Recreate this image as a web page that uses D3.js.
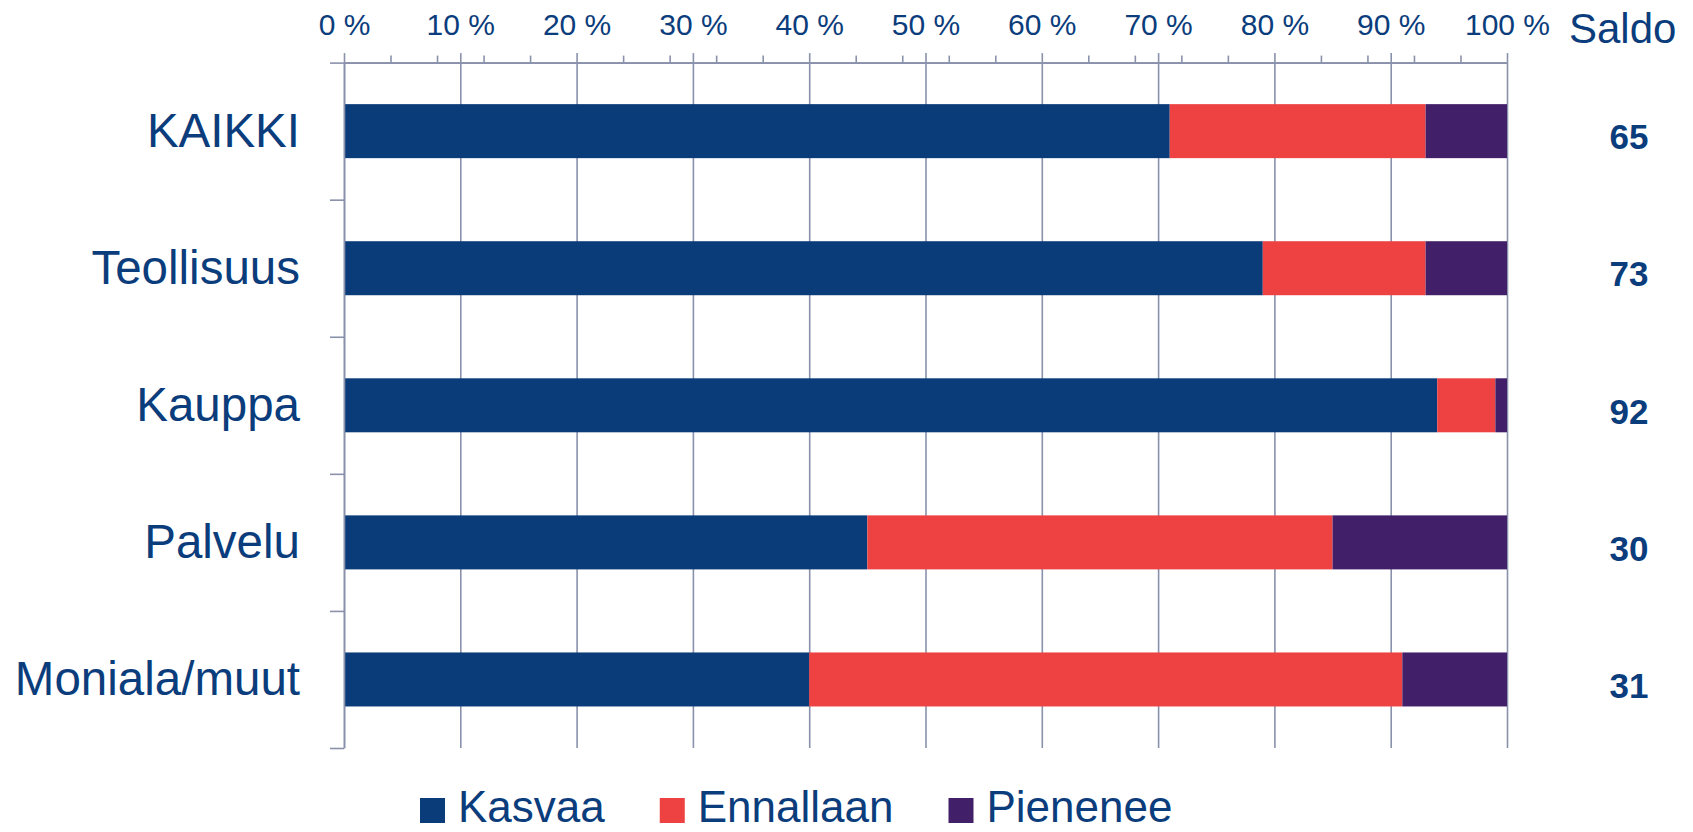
<!DOCTYPE html>
<html>
<head>
<meta charset="utf-8">
<script src="https://cdn.jsdelivr.net/npm/d3@7"></script>
<style>
  body { margin: 0; background: #fff; }
  svg { display: block; font-family: "Liberation Sans", Arial, sans-serif; }
  .grid line, .ticks line, .yticks line { stroke: #8a91ab; stroke-width: 1.6; }
  .ticks path, .yticks path { stroke: #8a91ab; stroke-width: 1.6; }
  .grid path { display: none; }
</style>
</head>
<body>
<svg></svg>
<script>
var categories = ["KAIKKI", "Teollisuus", "Kauppa", "Palvelu", "Moniala/muut"],
    kasvaa = [71, 79, 94, 45, 40],
    ennallaan = [22, 14, 5, 40, 51],
    pienenee = [7, 7, 1, 15, 9],
    saldo = [65, 73, 92, 30, 31],
    seriesNames = ["Kasvaa", "Ennallaan", "Pienenee"],
    seriesColors = ["#0a3c7a", "#ee4242", "#421f69"],
    majorTicks = [0, 10, 20, 30, 40, 50, 60, 70, 80, 90, 100],
    minorTicks = [4, 8, 12, 16, 24, 28, 32, 36, 44, 48, 52, 56, 64, 68, 72, 76, 84, 88, 92, 96];

var width = 1693,
    height = 832,
    margin = { top: 62.6, left: 344, right: 1693 - 1507, bottom: 832 - 748 },
    textColor = "#0b3d7c";

var svg = d3.select("svg")
    .attr("width", width)
    .attr("height", height);

var x = d3.scaleLinear()
    .domain([0, 100])
    .range([margin.left, width - margin.right]);

var y = d3.scaleBand()
    .domain(categories)
    .range([margin.top, height - margin.bottom])
    .paddingInner(0.606)
    .paddingOuter(0.303);

// boundaries between categories for the left ticks
var yb = d3.scaleLinear()
    .domain([0, categories.length])
    .range([margin.top, height - margin.bottom]);

// stack the three series
var rows = categories.map(function(c, i) {
    return { cat: c, Kasvaa: kasvaa[i], Ennallaan: ennallaan[i], Pienenee: pienenee[i] };
});
var stacked = d3.stack().keys(seriesNames)(rows);

// vertical gridlines
svg.append("g")
    .attr("class", "grid")
    .attr("transform", "translate(0," + margin.top + ")")
    .call(d3.axisBottom(x)
        .tickValues(majorTicks)
        .tickSize(height - margin.bottom - margin.top)
        .tickFormat(""));

// bars
svg.append("g")
    .selectAll("g")
    .data(stacked)
    .enter().append("g")
    .attr("fill", function(d, i) { return seriesColors[i]; })
    .selectAll("rect")
    .data(function(d) { return d; })
    .enter().append("rect")
    .attr("x", function(d) { return x(d[0]); })
    .attr("y", function(d) { return y(d.data.cat); })
    .attr("width", function(d) { return x(d[1]) - x(d[0]); })
    .attr("height", y.bandwidth());

// top axis, minor ticks
svg.append("g")
    .attr("class", "ticks")
    .attr("transform", "translate(0," + margin.top + ")")
    .call(d3.axisTop(x)
        .tickValues(minorTicks)
        .tickSize(7)
        .tickSizeOuter(0)
        .tickFormat(""));

// top axis, major ticks + labels
var xAxis = svg.append("g")
    .attr("class", "ticks")
    .attr("transform", "translate(0," + margin.top + ")")
    .call(d3.axisTop(x)
        .tickValues(majorTicks)
        .tickSize(9.5)
        .tickSizeOuter(0)
        .tickPadding(18.5)
        .tickFormat(function(d) { return d + " %"; }));
xAxis.selectAll("text")
    .attr("fill", textColor)
    .style("font-size", "30px")
    .style("font-family", "'Liberation Sans', Arial, sans-serif");

// left axis with ticks at the category boundaries
svg.append("g")
    .attr("class", "yticks")
    .attr("transform", "translate(" + margin.left + ",0)")
    .call(d3.axisLeft(yb)
        .tickValues(d3.range(categories.length + 1))
        .tickSize(14)
        .tickSizeOuter(0)
        .tickFormat(""));

// category labels
svg.append("g")
    .selectAll("text")
    .data(categories)
    .enter().append("text")
    .attr("x", 300)
    .attr("y", function(d) { return y(d) + y.bandwidth() / 2; })
    .attr("dy", "0.335em")
    .attr("text-anchor", "end")
    .attr("fill", textColor)
    .style("font-size", "47.5px")
    .text(function(d) { return d; });

// Saldo column
svg.append("text")
    .attr("x", 1569)
    .attr("y", 43)
    .attr("fill", textColor)
    .style("font-size", "42px")
    .text("Saldo");

svg.append("g")
    .selectAll("text")
    .data(saldo)
    .enter().append("text")
    .attr("x", 1629)
    .attr("y", function(d, i) { return y(categories[i]) + y.bandwidth() / 2; })
    .attr("dy", "0.52em")
    .attr("text-anchor", "middle")
    .attr("fill", textColor)
    .style("font-size", "35px")
    .style("font-weight", "bold")
    .text(function(d) { return d; });

// legend
var legend = svg.append("g")
    .attr("transform", "translate(420,822)");
var lx = 0;
seriesNames.forEach(function(name, i) {
    var item = legend.append("g").attr("transform", "translate(" + lx + ",0)");
    item.append("rect")
        .attr("x", 0)
        .attr("y", -24)
        .attr("width", 25)
        .attr("height", 25)
        .attr("fill", seriesColors[i]);
    var t = item.append("text")
        .attr("x", 38)
        .attr("y", 0)
        .attr("fill", textColor)
        .style("font-size", "44px")
        .text(name);
    lx += 38 + t.node().getComputedTextLength() + 55;
});
</script>
</body>
</html>
